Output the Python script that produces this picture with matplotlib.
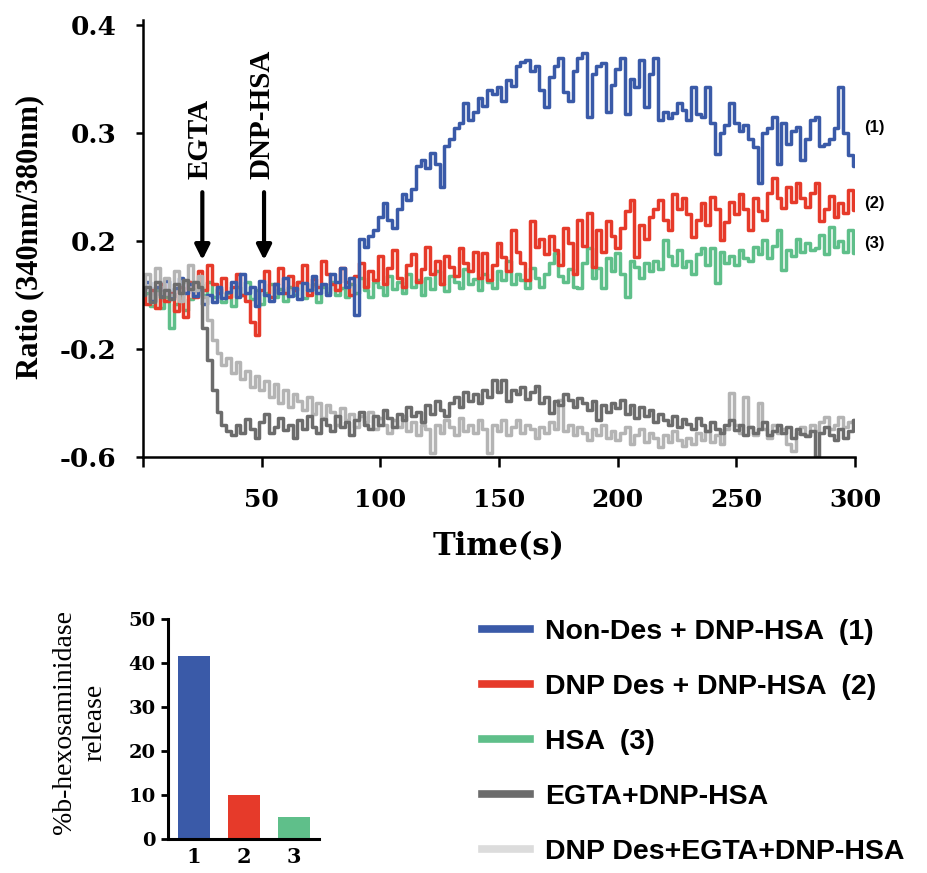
import numpy as np
import matplotlib
matplotlib.use("Agg")
import matplotlib.pyplot as plt
from matplotlib.lines import Line2D

# ratio traces, one value every 2 s (0..300 s)
# values are in axis units: tick positions 0..4 carry labels -0.6, -0.2, 0.2, 0.3, 0.4
step_s = 2

non_des = [
    1.55, 1.62, 1.45, 1.58, 1.50, 1.63, 1.48, 1.57, 1.66, 1.52,
    1.60, 1.49, 1.56, 1.42, 1.50, 1.44, 1.58, 1.47, 1.53, 1.62,
    1.48, 1.70, 1.52, 1.58, 1.40, 1.63, 1.50, 1.45, 1.60, 1.52,
    1.66, 1.49, 1.57, 1.46, 1.61, 1.55, 1.68, 1.52, 1.60, 1.50,
    1.70, 1.62, 1.75, 1.58, 1.66, 1.32, 2.02, 1.95, 2.05, 2.10,
    2.22, 2.35, 2.20, 2.12, 2.30, 2.44, 2.38, 2.48, 2.70, 2.75,
    2.68, 2.82, 2.72, 2.50, 2.88, 2.95, 3.05, 3.10, 3.28, 3.12,
    3.20, 3.33, 3.25, 3.40, 3.36, 3.43, 3.30, 3.49, 3.44, 3.62,
    3.66, 3.68, 3.58, 3.62, 3.40, 3.24, 3.52, 3.62, 3.70, 3.38,
    3.30, 3.58, 3.70, 3.74, 3.15, 3.55, 3.62, 3.65, 3.20, 3.45,
    3.60, 3.70, 3.18, 3.50, 3.43, 3.68, 3.24, 3.55, 3.70, 3.12,
    3.20, 3.14, 3.19, 3.28, 3.22, 3.12, 3.43, 3.18, 3.15, 3.43,
    3.10, 2.81, 3.00, 3.08, 3.28, 3.10, 3.02, 3.08, 2.95, 2.87,
    2.54, 3.00, 3.05, 3.15, 2.72, 3.10, 2.90, 3.02, 3.06, 2.75,
    2.95, 3.12, 3.15, 2.88, 2.90, 2.95, 3.05, 3.43, 3.00, 2.80,
    2.70,
]

dnp_des = [
    1.50, 1.42, 1.55, 1.38, 1.60, 1.45, 1.52, 1.35, 1.58, 1.30,
    1.62, 1.48, 1.72, 1.55, 1.78, 1.60, 1.52, 1.66, 1.48, 1.58,
    1.70, 1.50, 1.45, 1.25, 1.13, 1.55, 1.72, 1.48, 1.60, 1.75,
    1.52, 1.68, 1.55, 1.62, 1.78, 1.50, 1.65, 1.58, 1.82, 1.70,
    1.60, 1.55, 1.75, 1.62, 1.50, 1.68, 1.80, 1.58, 1.72, 1.64,
    1.86, 1.60, 1.75, 1.92, 1.66, 1.58, 1.78, 1.88, 1.62, 1.74,
    1.95, 1.70, 1.82, 1.60, 1.86, 1.76, 1.68, 1.94, 1.80, 1.72,
    1.90, 1.66, 1.89, 1.64, 1.78, 1.98, 1.85, 1.72, 2.10, 1.90,
    1.80, 1.64, 2.19, 1.95, 2.02, 1.88, 2.05, 1.92, 1.78, 2.12,
    1.98, 1.70, 2.20, 1.96, 2.26, 1.76, 2.10, 1.90, 2.19, 2.05,
    1.94, 2.12, 2.28, 2.38, 1.85, 2.15, 2.02, 2.22, 2.30, 2.38,
    2.20, 2.10, 2.44, 2.30, 2.40, 2.25, 2.04, 2.20, 2.35, 2.15,
    2.41, 2.30, 2.01, 2.18, 2.36, 2.25, 2.44, 2.30, 2.10, 2.40,
    2.28, 2.20, 2.45, 2.59, 2.40, 2.31, 2.50, 2.36, 2.54, 2.40,
    2.32, 2.45, 2.54, 2.19, 2.30, 2.42, 2.22, 2.35, 2.26, 2.47,
    2.29,
]

hsa = [
    1.45, 1.52, 1.40, 1.55, 1.38, 1.48, 1.20, 1.42, 1.50, 1.36,
    1.46, 1.55, 1.60, 1.50, 1.62, 1.48, 1.56, 1.44, 1.52, 1.40,
    1.58, 1.50, 1.62, 1.46, 1.55, 1.42, 1.52, 1.60, 1.48, 1.56,
    1.45, 1.58, 1.50, 1.62, 1.47, 1.55, 1.60, 1.44, 1.58, 1.52,
    1.62, 1.50, 1.57, 1.48, 1.60, 1.52, 1.66, 1.55, 1.48, 1.62,
    1.58, 1.50, 1.68, 1.56, 1.62, 1.52, 1.70, 1.58, 1.64, 1.50,
    1.66, 1.56, 1.72, 1.60, 1.54, 1.68, 1.62, 1.57, 1.74, 1.60,
    1.65, 1.55, 1.70, 1.62, 1.57, 1.72, 1.64, 1.82, 1.60, 1.70,
    1.64, 1.57, 1.75, 1.66, 1.58, 1.70, 1.80, 1.89, 1.68, 1.62,
    1.74, 1.58, 1.57, 1.80, 1.94, 1.66, 1.75, 1.57, 1.84, 1.72,
    1.89, 1.70, 1.48, 1.82, 1.76, 1.66, 1.80, 1.72, 1.82, 1.74,
    2.01, 1.86, 1.78, 1.92, 1.76, 1.82, 1.70, 1.88, 1.94, 1.78,
    1.94, 1.61, 1.90, 1.80, 1.86, 1.78, 1.92, 1.84, 1.82, 1.95,
    1.88, 2.01, 1.84, 1.96, 2.10, 1.73, 1.92, 1.86, 2.02, 1.90,
    1.98, 1.92, 1.94, 2.06, 1.88, 2.13, 1.95, 2.00, 1.90, 2.10,
    1.89,
]

egta = [
    1.50, 1.58, 1.44, 1.62, 1.48, 1.55, 1.46, 1.60, 1.52, 1.64,
    1.56, 1.62, 1.58, 1.20, 0.90, 0.62, 0.42, 0.30, 0.24, 0.20,
    0.30, 0.22, 0.35, 0.26, 0.18, 0.32, 0.40, 0.22, 0.28, 0.36,
    0.25, 0.30, 0.18, 0.34, 0.26, 0.38, 0.28, 0.22, 0.35, 0.30,
    0.24, 0.38, 0.28, 0.32, 0.20, 0.34, 0.42, 0.30, 0.26, 0.38,
    0.30, 0.44, 0.36, 0.28, 0.40, 0.34, 0.46, 0.38, 0.42, 0.32,
    0.48, 0.40, 0.52, 0.44, 0.38, 0.50, 0.56, 0.46, 0.60, 0.52,
    0.58, 0.50, 0.62, 0.56, 0.71, 0.60, 0.71, 0.52, 0.62, 0.58,
    0.65, 0.54, 0.60, 0.66, 0.50, 0.56, 0.41, 0.52, 0.48, 0.58,
    0.53, 0.46, 0.55, 0.50, 0.44, 0.52, 0.34, 0.48, 0.42, 0.50,
    0.45, 0.53, 0.40, 0.48, 0.36, 0.46, 0.38, 0.44, 0.32, 0.40,
    0.34, 0.30, 0.38, 0.28, 0.35, 0.31, 0.26, 0.36, 0.30, 0.24,
    0.32, 0.26, 0.22, 0.30, 0.34, 0.25, 0.30, 0.20, 0.28, 0.22,
    0.26, 0.32, 0.20, 0.24, 0.30, 0.22, 0.28, 0.18, 0.26, 0.21,
    0.19, 0.24, 0.00, 0.22, 0.28, 0.20, 0.16, 0.26, 0.18, 0.24,
    0.34,
]

dnp_des_egta = [
    1.55, 1.70, 1.48, 1.75, 1.52, 1.66, 1.50, 1.72, 1.45, 1.62,
    1.78, 1.55, 1.68, 1.48, 1.27, 1.08, 0.96, 0.85, 0.92, 0.78,
    0.88, 0.72, 0.80, 0.65, 0.75, 0.62, 0.70, 0.56, 0.68, 0.50,
    0.62, 0.46, 0.58, 0.52, 0.44, 0.56, 0.40, 0.50, 0.36, 0.48,
    0.42, 0.30, 0.45, 0.34, 0.40, 0.28, 0.38, 0.32, 0.42, 0.26,
    0.36, 0.30, 0.22, 0.34, 0.28, 0.38, 0.24, 0.32, 0.20, 0.30,
    0.26, 0.04, 0.30, 0.22, 0.34, 0.28, 0.20, 0.36, 0.24, 0.30,
    0.22, 0.34, 0.26, 0.04, 0.30, 0.24, 0.34, 0.20, 0.28, 0.34,
    0.22, 0.30, 0.26, 0.18, 0.28, 0.22, 0.32, 0.26, 0.53, 0.24,
    0.30, 0.20, 0.28, 0.22, 0.16, 0.26, 0.20, 0.30, 0.18, 0.24,
    0.16, 0.22, 0.28, 0.12, 0.20, 0.26, 0.14, 0.22, 0.18, 0.09,
    0.20, 0.14, 0.24, 0.16, 0.10, 0.18, 0.12, 0.22, 0.16, 0.24,
    0.14, 0.20, 0.12, 0.26, 0.59, 0.30, 0.22, 0.56, 0.28, 0.20,
    0.50, 0.26, 0.18, 0.30, 0.22, 0.26, 0.12, 0.06, 0.22, 0.28,
    0.20, 0.30, 0.24, 0.32, 0.37, 0.26, 0.30, 0.37, 0.28, 0.32,
    0.34,
]

ytick_labels = ["-0.6", "-0.2", "0.2", "0.3", "0.4"]
xtick_values = [0, 50, 100, 150, 200, 250, 300]

# beta-hexosaminidase release (%)
bar_groups = ["1", "2", "3"]
release = [41.7, 10, 5]

legend_labels = ["Non-Des + DNP-HSA  (1)", "DNP Des + DNP-HSA  (2)", "HSA  (3)",
                 "EGTA+DNP-HSA", "DNP Des+EGTA+DNP-HSA"]

c_blue = "#3a5aa8"
c_red = "#e63a2a"
c_green = "#5fbf8a"
c_dark = "#6c6c6c"
c_light = "#b4b4b4"
c_light_leg = "#dcdcdc"

serif_b = dict(family="DejaVu Serif", weight="bold")
times_b = dict(family="Liberation Serif", weight="bold")
sans_b = dict(family="Liberation Sans", weight="bold")

W, H = 927, 873
fig = plt.figure(figsize=(W / 100, H / 100), dpi=100)

# ---- top panel: ratio traces
ax = fig.add_axes([143 / W, 1 - 457 / H, (855 - 143) / W, (457 - 20) / H])

def times_for(vals):
    return np.arange(len(vals)) * step_s

lw = 2.5
ax.plot(times_for(hsa), hsa, color=c_green, lw=lw, drawstyle="steps-mid")
ax.plot(times_for(dnp_des), dnp_des, color=c_red, lw=lw, drawstyle="steps-mid")
ax.plot(times_for(non_des), non_des, color=c_blue, lw=lw, drawstyle="steps-mid")
ax.plot(times_for(dnp_des_egta), dnp_des_egta, color=c_light, lw=lw, drawstyle="steps-mid")
ax.plot(times_for(egta), egta, color=c_dark, lw=lw, drawstyle="steps-mid")

ax.set_xlim(0, 300)
ax.set_ylim(0, 4.05)
ax.set_xticks(xtick_values)
ax.set_xticklabels([""] + [str(v) for v in xtick_values[1:]], fontdict=dict(size=18, **serif_b))
ax.set_yticks(range(len(ytick_labels)))
ax.set_yticklabels(ytick_labels, fontdict=dict(size=19, **serif_b))
ax.spines["top"].set_visible(False)
ax.spines["right"].set_visible(False)
for s in ("left", "bottom"):
    ax.spines[s].set_linewidth(1.8)
ax.tick_params(axis="x", direction="out", length=7, width=1.8, pad=15)
ax.tick_params(axis="y", direction="out", length=5, width=1.8, pad=14)
ax.set_xlabel("Time(s)", fontdict=dict(size=22, **serif_b), labelpad=14)

# stimulus arrows
for t_add, label in [(25, "EGTA"), (51, "DNP-HSA")]:
    ax.annotate("", xy=(t_add, 1.80), xytext=(t_add, 2.48),
                arrowprops=dict(arrowstyle="-|>", lw=3, color="black", mutation_scale=22))
    ax.text(t_add - 0.8, 2.58, label, rotation=90, ha="center", va="bottom",
            fontdict=dict(size=21, **times_b))

# trace numbers at right
for yv, lab in [(3.05, "(1)"), (2.35, "(2)"), (1.98, "(3)")]:
    ax.text(304, yv, lab, ha="left", va="center", clip_on=False,
            fontdict=dict(size=12, **sans_b))

fig.text(30 / W, 1 - 237 / H, "Ratio (340nm/380nm)", rotation=90, ha="center", va="center",
         fontdict=dict(size=22, **times_b))

# ---- bottom-left: release bars
bx = fig.add_axes([168 / W, 1 - 839 / H, (319 - 168) / W, (839 - 619) / H])
xpos = np.arange(1, len(release) + 1)
bx.bar(xpos, release, width=0.64, color=[c_blue, c_red, c_green])
bx.set_xlim(0.477, 3.51)
bx.set_ylim(0, 50)
bx.set_yticks([0, 10, 20, 30, 40, 50])
bx.set_yticklabels(["0", "10", "20", "30", "40", "50"], fontdict=dict(size=14, **serif_b))
bx.set_xticks(xpos)
bx.set_xticklabels(bar_groups, fontdict=dict(size=15, **serif_b))
bx.spines["top"].set_visible(False)
bx.spines["right"].set_visible(False)
for s in ("left", "bottom"):
    bx.spines[s].set_linewidth(2.2)
bx.tick_params(axis="y", direction="out", length=5, width=2, pad=4)
bx.tick_params(axis="x", length=0, pad=6)

fig.text(80 / W, 1 - 722 / H, "%b-hexosaminidase\nrelease", rotation=90, ha="center",
         va="center", linespacing=1.3, fontdict=dict(size=20, family="Liberation Serif"))

# ---- legend
handles = [Line2D([], [], color=c, lw=5.5) for c in (c_blue, c_red, c_green, c_dark, c_light_leg)]
fig.legend(handles, legend_labels, loc="upper left", bbox_to_anchor=(482 / W, 1 - 619 / H),
           frameon=False, prop=dict(size=20.5, **sans_b), handlelength=1.7,
           handletextpad=0.5, labelspacing=1.02, borderpad=0, borderaxespad=0)

fig.savefig("out.png", dpi=100)
